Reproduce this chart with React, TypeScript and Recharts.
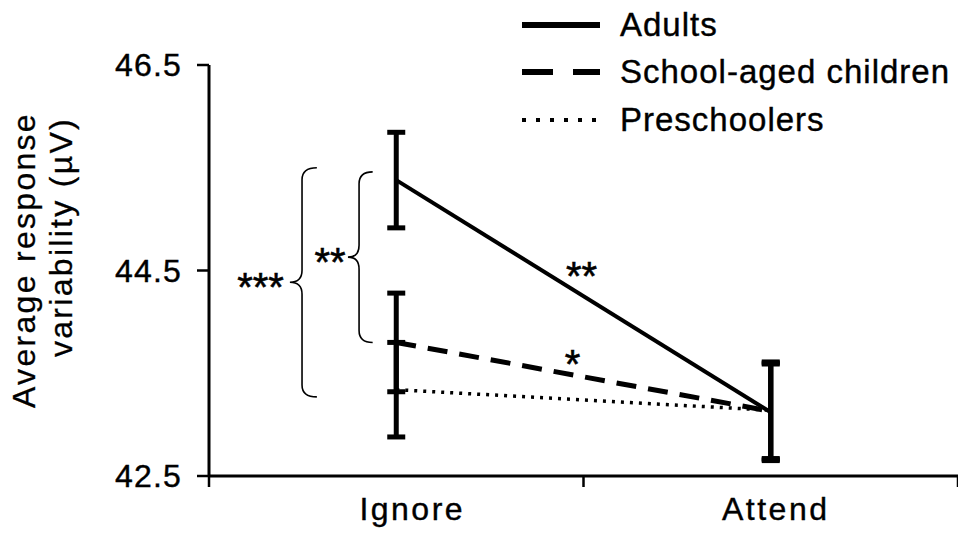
import React from 'react';
import {
  LineChart,
  Line,
  XAxis,
  YAxis,
  ErrorBar,
  ReferenceArea,
  ReferenceDot,
  Legend,
  Label,
} from 'recharts';

const categories = ['Ignore', 'Attend'];
const seriesNames = ['Adults', 'School-aged children', 'Preschoolers'];
const adults = [45.38, 43.12];
const adultsErr = [0.465, 0.47];
const school = [43.8, 43.13];
const schoolErr = [0.48, 0.47];
const preschool = [43.34, 43.14];
const preschoolErr = [0.46, 0.47];
const yTicks = [42.5, 44.5, 46.5];
const yLabelLines = ['Average response', 'variability (\u00b5V)'];

const FONT = '"Liberation Sans", Arial, Helvetica, sans-serif';
const labelShift = [16, 5];

const data = categories.map((c, i) => ({
  pos: i + 0.5,
  cat: c,
  adults: adults[i],
  adultsErr: adultsErr[i],
  school: school[i],
  schoolErr: schoolErr[i],
  preschool: preschool[i],
  preschoolErr: preschoolErr[i],
}));

const xTicks: number[] = [];
for (let i = 0; i <= categories.length; i++) {
  xTicks.push(i);
  if (i < categories.length) xTicks.push(i + 0.5);
}

const XTick = (props: any) => {
  const { x, y, payload } = props;
  const v = payload.value as number;
  if (Number.isInteger(v)) {
    return <line x1={x} x2={x} y1={y} y2={y + 11} stroke="#000" strokeWidth={2.5} />;
  }
  const idx = Math.floor(v);
  return (
    <text
      x={x + labelShift[idx]}
      y={y + 44}
      textAnchor="middle"
      fontFamily={FONT}
      fontSize={32}
      fill="#000"
      stroke="#000"
      strokeWidth={0.4}
      style={{ letterSpacing: 2.5 }}
    >
      {categories[idx]}
    </text>
  );
};

const YTick = (props: any) => {
  const { x, y, payload } = props;
  return (
    <text
      x={x}
      y={y + 11}
      textAnchor="end"
      fontFamily={FONT}
      fontSize={32}
      fill="#000"
      stroke="#000"
      strokeWidth={0.4}
      style={{ letterSpacing: 1.2 }}
    >
      {Number(payload.value).toFixed(1)}
    </text>
  );
};

const YLabel = () => (
  <g>
    <text
      transform="translate(35,260) rotate(-90)"
      textAnchor="middle"
      fontFamily={FONT}
      fontSize={32}
      fill="#000"
      stroke="#000"
      strokeWidth={0.3}
      style={{ letterSpacing: 2.3 }}
    >
      {yLabelLines[0]}
    </text>
    <text
      transform="translate(72,237) rotate(-90)"
      textAnchor="middle"
      fontFamily={FONT}
      fontSize={32}
      fill="#000"
      stroke="#000"
      strokeWidth={0.3}
      style={{ letterSpacing: 2.3 }}
    >
      {yLabelLines[1]}
    </text>
  </g>
);

const Brace = (props: any) => {
  const { x, y, width: w, height: h } = props;
  const tip = x;
  const stem = x + w * 0.45;
  const end = x + w;
  const mid = y + h / 2;
  const r = 12;
  const d = `M${end},${y} Q${stem},${y} ${stem},${y + r} L${stem},${mid - r} Q${stem},${mid} ${tip},${mid} Q${stem},${mid} ${stem},${mid + r} L${stem},${y + h - r} Q${stem},${y + h} ${end},${y + h}`;
  return <path d={d} fill="none" stroke="#000" strokeWidth={1.6} />;
};

const starShape = (text: string, anchor: string) => (props: any) => (
  <text
    x={props.cx}
    y={props.cy + 23}
    textAnchor={anchor}
    fontFamily={FONT}
    fontSize={40}
    fill="#000"
    stroke="#000"
    strokeWidth={0.6}
  >
    {text}
  </text>
);

const legendStyles = [
  { width: 6, dash: undefined as string | undefined },
  { width: 6, dash: '31 20' },
  { width: 4, dash: '4 10' },
];

const LegendContent = () => (
  <div style={{ fontFamily: FONT }}>
    {seriesNames.map((n, i) => (
      <div key={n} style={{ display: 'flex', alignItems: 'center', height: 47.5 }}>
        <svg width={78} height={20} style={{ display: 'block' }}>
          <line
            x1={0}
            x2={78}
            y1={10}
            y2={10}
            stroke="#000"
            strokeWidth={legendStyles[i].width}
            strokeDasharray={legendStyles[i].dash}
          />
        </svg>
        <span
          style={{
            marginLeft: 20,
            fontSize: 33,
            color: '#000',
            letterSpacing: 1,
            whiteSpace: 'nowrap',
            WebkitTextStroke: '0.4px #000',
          }}
        >
          {n}
        </span>
      </div>
    ))}
  </div>
);

export default function App() {
  return (
    <div style={{ position: 'absolute', left: 0, top: 0, width: 958, height: 535, background: '#fff' }}>
      <LineChart width={958} height={535} data={data} margin={{ top: 65, right: 0, bottom: 0, left: 0 }}>
        <XAxis
          dataKey="pos"
          type="number"
          domain={[0, categories.length]}
          ticks={xTicks}
          interval={0}
          height={59}
          tickSize={0}
          tickMargin={0}
          tickLine={false}
          axisLine={{ stroke: '#000', strokeWidth: 3 }}
          tick={<XTick />}
        />
        <YAxis
          type="number"
          domain={[42.5, 46.5]}
          ticks={yTicks}
          interval={0}
          width={209}
          tickSize={12}
          tickMargin={15}
          axisLine={{ stroke: '#000', strokeWidth: 3 }}
          tickLine={{ stroke: '#000', strokeWidth: 2.5 }}
          tick={<YTick />}
        >
          <Label content={<YLabel />} />
        </YAxis>
        <Legend
          layout="horizontal"
          verticalAlign="middle"
          align="center"
          content={<LegendContent />}
          wrapperStyle={{ position: 'absolute', top: 1, left: 522, width: 436 }}
        />
        <ReferenceArea
          x1={0.216}
          x2={0.288}
          y1={preschool[0] - 0.07}
          y2={adults[0] + 0.12}
          shape={<Brace />}
        />
        <ReferenceArea
          x1={0.371}
          x2={0.437}
          y1={school[0]}
          y2={adults[0] + 0.08}
          shape={<Brace />}
        />
        <ReferenceDot x={0.2} y={44.43} r={0} shape={starShape('***', 'end')} />
        <ReferenceDot x={0.365} y={44.67} r={0} shape={starShape('**', 'end')} />
        <ReferenceDot x={0.995} y={44.53} r={0} shape={starShape('**', 'middle')} />
        <ReferenceDot x={0.971} y={43.68} r={0} shape={starShape('*', 'middle')} />
        <Line
          dataKey="preschool"
          name={seriesNames[2]}
          stroke="#000"
          strokeWidth={3.5}
          strokeDasharray="3 6"
          dot={false}
          isAnimationActive={false}
        >
          <ErrorBar dataKey="preschoolErr" direction="y" width={9} stroke="#000" strokeWidth={5} />
        </Line>
        <Line
          dataKey="school"
          name={seriesNames[1]}
          stroke="#000"
          strokeWidth={5}
          strokeDasharray="20 12"
          dot={false}
          isAnimationActive={false}
        >
          <ErrorBar dataKey="schoolErr" direction="y" width={9} stroke="#000" strokeWidth={5} />
        </Line>
        <Line
          dataKey="adults"
          name={seriesNames[0]}
          stroke="#000"
          strokeWidth={4}
          dot={false}
          isAnimationActive={false}
        >
          <ErrorBar dataKey="adultsErr" direction="y" width={9} stroke="#000" strokeWidth={5} />
        </Line>
      </LineChart>
    </div>
  );
}
